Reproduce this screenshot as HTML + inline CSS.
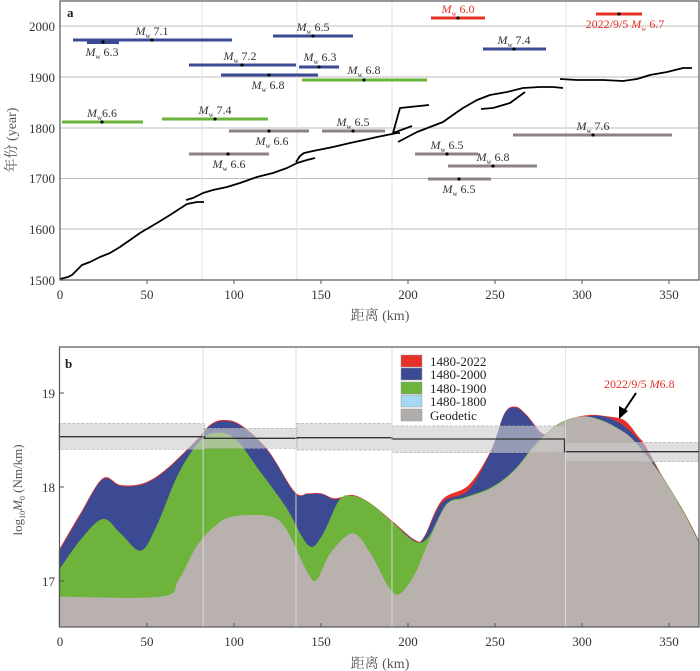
<!DOCTYPE html>
<html><head><meta charset="utf-8"><style>
html,body{margin:0;padding:0;background:#fff;}
svg{display:block;font-family:"Liberation Serif","Noto Serif CJK SC",serif;}
</style></head><body>
<svg width="700" height="671" viewBox="0 0 700 671" xmlns="http://www.w3.org/2000/svg">
<!-- Panel a -->
<g stroke="#bbb" stroke-width="1">
<line x1="60" y1="26" x2="699" y2="26"/><line x1="60" y1="77" x2="699" y2="77"/>
<line x1="60" y1="128" x2="699" y2="128"/><line x1="60" y1="178.5" x2="699" y2="178.5"/>
<line x1="60" y1="229" x2="699" y2="229"/>
</g>
<g stroke="#e2e2e2" stroke-width="1">
<line x1="202" y1="1" x2="202" y2="280"/><line x1="297" y1="1" x2="297" y2="280"/>
<line x1="392" y1="1" x2="392" y2="280"/><line x1="566" y1="1" x2="566" y2="280"/>
</g>
<g stroke-width="3">
<g stroke="#3a4a96">
<line x1="73" y1="40" x2="232" y2="40"/><line x1="87" y1="42" x2="119" y2="42" stroke-width="4"/>
<line x1="273" y1="36" x2="353" y2="36"/><line x1="189" y1="65" x2="296" y2="65"/>
<line x1="299" y1="67" x2="339" y2="67"/><line x1="221" y1="75" x2="318" y2="75"/>
<line x1="483" y1="49" x2="546" y2="49"/>
</g>
<g stroke="#e53127"><line x1="431" y1="18" x2="485" y2="18"/><line x1="596" y1="14" x2="642" y2="14"/></g>
<g stroke="#6bb33a"><line x1="62" y1="122" x2="143" y2="122"/><line x1="162" y1="119" x2="268" y2="119"/><line x1="302" y1="80" x2="427" y2="80"/></g>
<g stroke="#8c8280">
<line x1="229" y1="131" x2="309" y2="131"/><line x1="322" y1="131" x2="385" y2="131"/>
<line x1="189" y1="154" x2="269" y2="154"/><line x1="513" y1="135" x2="672" y2="135"/>
<line x1="415" y1="154" x2="478" y2="154"/><line x1="448" y1="166" x2="537" y2="166"/>
<line x1="428" y1="179" x2="491" y2="179"/>
</g>
</g>
<g fill="#000">
<circle cx="152" cy="40" r="1.6"/><circle cx="103" cy="42" r="1.6"/><circle cx="313" cy="36" r="1.6"/>
<circle cx="242" cy="65" r="1.6"/><circle cx="319" cy="67" r="1.6"/><circle cx="269" cy="75" r="1.6"/>
<circle cx="514" cy="49" r="1.6"/><circle cx="458" cy="18" r="1.6"/><circle cx="619" cy="14" r="1.6"/>
<circle cx="102" cy="122" r="1.6"/><circle cx="215" cy="119" r="1.6"/><circle cx="364" cy="80" r="1.6"/>
<circle cx="269" cy="131" r="1.6"/><circle cx="353" cy="131" r="1.6"/><circle cx="228" cy="154" r="1.6"/>
<circle cx="593" cy="135" r="1.6"/><circle cx="447" cy="154" r="1.6"/><circle cx="493" cy="166" r="1.6"/>
<circle cx="459" cy="179" r="1.6"/>
</g>
<g font-size="12" fill="#333" text-anchor="middle">
<text x="152" y="35"><tspan font-style="italic">M</tspan><tspan font-size="7" dy="3">w</tspan><tspan dy="-3"> 7.1</tspan></text>
<text x="102" y="56"><tspan font-style="italic">M</tspan><tspan font-size="7" dy="3">w</tspan><tspan dy="-3"> 6.3</tspan></text>
<text x="313" y="31"><tspan font-style="italic">M</tspan><tspan font-size="7" dy="3">w</tspan><tspan dy="-3"> 6.5</tspan></text>
<text x="240" y="60"><tspan font-style="italic">M</tspan><tspan font-size="7" dy="3">w</tspan><tspan dy="-3"> 7.2</tspan></text>
<text x="320" y="61"><tspan font-style="italic">M</tspan><tspan font-size="7" dy="3">w</tspan><tspan dy="-3"> 6.3</tspan></text>
<text x="268" y="89"><tspan font-style="italic">M</tspan><tspan font-size="7" dy="3">w</tspan><tspan dy="-3"> 6.8</tspan></text>
<text x="514" y="44"><tspan font-style="italic">M</tspan><tspan font-size="7" dy="3">w</tspan><tspan dy="-3"> 7.4</tspan></text>
<text x="102" y="117"><tspan font-style="italic">M</tspan><tspan font-size="7" dy="3">w</tspan><tspan dy="-3">6.6</tspan></text>
<text x="215" y="114"><tspan font-style="italic">M</tspan><tspan font-size="7" dy="3">w</tspan><tspan dy="-3"> 7.4</tspan></text>
<text x="364" y="74"><tspan font-style="italic">M</tspan><tspan font-size="7" dy="3">w</tspan><tspan dy="-3"> 6.8</tspan></text>
<text x="272" y="145"><tspan font-style="italic">M</tspan><tspan font-size="7" dy="3">w</tspan><tspan dy="-3"> 6.6</tspan></text>
<text x="353" y="126"><tspan font-style="italic">M</tspan><tspan font-size="7" dy="3">w</tspan><tspan dy="-3"> 6.5</tspan></text>
<text x="229" y="168"><tspan font-style="italic">M</tspan><tspan font-size="7" dy="3">w</tspan><tspan dy="-3"> 6.6</tspan></text>
<text x="593" y="130"><tspan font-style="italic">M</tspan><tspan font-size="7" dy="3">w</tspan><tspan dy="-3"> 7.6</tspan></text>
<text x="447" y="149"><tspan font-style="italic">M</tspan><tspan font-size="7" dy="3">w</tspan><tspan dy="-3"> 6.5</tspan></text>
<text x="493" y="161"><tspan font-style="italic">M</tspan><tspan font-size="7" dy="3">w</tspan><tspan dy="-3"> 6.8</tspan></text>
<text x="459" y="193"><tspan font-style="italic">M</tspan><tspan font-size="7" dy="3">w</tspan><tspan dy="-3"> 6.5</tspan></text>
<text x="458" y="13" fill="#e53127"><tspan font-style="italic">M</tspan><tspan font-size="7" dy="3">w</tspan><tspan dy="-3"> 6.0</tspan></text>
<text x="625" y="28" fill="#e53127">2022/9/5 <tspan font-style="italic">M</tspan><tspan font-size="7" dy="3">w</tspan><tspan dy="-3"> 6.7</tspan></text>
</g>
<g fill="none" stroke="#000" stroke-width="1.8" stroke-linejoin="round">
<polyline points="60,279 68,277 72,275 82,265 90,262 100,257 110,253 120,247 140,233 157,223 170,215 187,204 197,202 204,202"/>
<polyline points="186,200 193,198 203,193 213,190 227,187 240,183 257,177 273,173 287,168 297,163 307,160 315,158"/>
<polyline points="296,162 300,156 304,153 313,151 333,147 350,143 364,140 377,137 397,133 400,133"/>
<polyline points="393,133 400,108 429,105"/>
<polyline points="393,133 412,126"/>
<polyline points="398,142 417,132 430,127 443,122 450,117 463,108 477,100 490,95 507,92 523,88 540,87 553,87 563,88"/>
<polyline points="481,109 493,108 510,103 525,92"/>
<polyline points="560,79 577,80 603,80 623,81 637,79 650,75 667,72 683,68 692,68"/>
</g>
<rect x="60" y="1" width="639" height="279" fill="none" stroke="#555" stroke-width="1.2"/>
<text x="67" y="17" font-size="13" font-weight="bold" fill="#222">a</text>
<g font-size="13" fill="#333" text-anchor="end">
<text x="55" y="31">2000</text><text x="55" y="82">1900</text><text x="55" y="133">1800</text>
<text x="55" y="183">1700</text><text x="55" y="234">1600</text><text x="55" y="285">1500</text>
</g>
<g stroke="#555"><line x1="147" y1="280" x2="147" y2="284"/><line x1="234" y1="280" x2="234" y2="284"/><line x1="321" y1="280" x2="321" y2="284"/><line x1="408" y1="280" x2="408" y2="284"/><line x1="495" y1="280" x2="495" y2="284"/><line x1="582" y1="280" x2="582" y2="284"/><line x1="669" y1="280" x2="669" y2="284"/></g>
<g font-size="13" fill="#333" text-anchor="middle">
<text x="60" y="299">0</text><text x="147" y="299">50</text><text x="234" y="299">100</text><text x="321" y="299">150</text>
<text x="408" y="299">200</text><text x="495" y="299">250</text><text x="582" y="299">300</text><text x="669" y="299">350</text>
<text x="380" y="320" font-size="14" fill="#555">距离 (km)</text>
<text transform="translate(16,140) rotate(-90)" font-size="14" fill="#555">年份 (year)</text>
</g>

<!-- Panel b -->
<g transform="translate(0,340) scale(0.44643,0.33333)">
<path id="pr" fill="#e53127" d="M132,630 L180,520 230,415 270,435 320,430 370,390 440,300 470,255 500,240 540,255 600,330 660,455 690,460 720,460 750,475 790,465 830,490 880,545 930,600 950,590 990,480 1050,435 1100,330 1130,220 1155,200 1180,225 1215,280 1240,270 1270,240 1320,225 1365,230 1400,242 1430,290 1445,315 1480,400 1530,510 1565,600 L1565,860 132,860Z"/>
<path id="pb" fill="#3b4a92" d="M132,635 L180,525 230,418 270,438 320,433 370,393 440,303 470,258 500,243 540,258 600,333 660,458 690,462 720,462 750,478 790,468 830,493 880,548 930,603 950,593 990,488 1050,450 1100,333 1130,222 1155,203 1180,228 1215,283 1240,273 1270,243 1320,228 1360,232 1400,260 1440,315 1480,402 1530,512 1565,603 L1565,860 132,860Z"/>
<path id="pg" fill="#6db33c" d="M132,690 L180,600 230,537 270,580 315,632 350,560 400,400 450,300 490,278 530,300 580,390 640,500 690,615 720,590 760,480 790,468 830,490 880,548 930,605 960,590 1000,492 1040,472 1100,442 1150,392 1200,312 1250,252 1300,230 1340,237 1380,262 1420,302 1480,402 1530,512 1565,605 L1565,860 132,860Z"/>
<path id="py" fill="#b9b1ae" d="M132,770 L360,770 400,720 440,620 480,560 520,530 600,528 640,565 690,700 710,718 740,640 790,580 830,640 870,740 895,762 930,700 960,605 1000,495 1040,475 1100,445 1150,395 1200,315 1250,255 1300,230 1340,238 1380,262 1420,302 1480,405 1530,515 1565,608 L1565,860 132,860Z"/>
<g fill="rgba(205,205,205,0.62)" stroke="#aaa" stroke-dasharray="6,4" stroke-width="2">
<rect x="132" y="250" width="326" height="78"/><rect x="458" y="265" width="207" height="60"/>
<rect x="665" y="250" width="213" height="80"/><rect x="878" y="258" width="387" height="80"/>
<rect x="1265" y="307" width="300" height="58"/>
</g>
<polyline fill="none" stroke="#333" stroke-width="4" points="132,290 458,290 458,295 665,295 665,293 878,293 878,297 1265,297 1265,335 1565,335"/>
<g stroke="#ddd" stroke-width="2"><line x1="455" y1="20" x2="455" y2="860"/><line x1="663" y1="20" x2="663" y2="860"/><line x1="878" y1="20" x2="878" y2="860"/><line x1="1267" y1="20" x2="1267" y2="860"/></g>
</g>
<rect x="59.5" y="347" width="639.5" height="280" fill="none" stroke="#555" stroke-width="1.2"/>
<text x="65" y="368" font-size="13" font-weight="bold" fill="#222">b</text>
<g stroke="#555"><line x1="60" y1="393" x2="64" y2="393"/><line x1="60" y1="487" x2="64" y2="487"/><line x1="60" y1="581" x2="64" y2="581"/>
<line x1="147" y1="627" x2="147" y2="623"/><line x1="234" y1="627" x2="234" y2="623"/><line x1="321" y1="627" x2="321" y2="623"/><line x1="408" y1="627" x2="408" y2="623"/><line x1="495" y1="627" x2="495" y2="623"/><line x1="582" y1="627" x2="582" y2="623"/><line x1="669" y1="627" x2="669" y2="623"/></g>
<g font-size="13" fill="#333" text-anchor="end"><text x="55" y="398">19</text><text x="55" y="492">18</text><text x="55" y="586">17</text></g>
<g font-size="13" fill="#333" text-anchor="middle">
<text x="60" y="646">0</text><text x="147" y="646">50</text><text x="234" y="646">100</text><text x="321" y="646">150</text>
<text x="408" y="646">200</text><text x="495" y="646">250</text><text x="582" y="646">300</text><text x="669" y="646">350</text>
<text x="380" y="668" font-size="14" fill="#555">距离 (km)</text>
<text transform="translate(22,490) rotate(-90)" font-size="13" fill="#555">log<tspan font-size="8" dy="3">10</tspan><tspan dy="-3" font-style="italic">M</tspan><tspan font-size="8" dy="3">0</tspan><tspan dy="-3"> (Nm/km)</tspan></text>
</g>
<g font-size="13" fill="#222">
<rect x="401" y="355" width="21" height="12" fill="#e53127" stroke="#999" stroke-width="0.5"/><text x="430" y="366">1480-2022</text>
<rect x="401" y="368" width="21" height="12" fill="#3b4a92" stroke="#999" stroke-width="0.5"/><text x="430" y="379">1480-2000</text>
<rect x="401" y="382" width="21" height="12" fill="#6db33c" stroke="#999" stroke-width="0.5"/><text x="430" y="393">1480-1900</text>
<rect x="401" y="395" width="21" height="12" fill="#a6d8f0" stroke="#999" stroke-width="0.5"/><text x="430" y="406">1480-1800</text>
<rect x="401" y="409" width="21" height="12" fill="#b0adab" stroke="#999" stroke-width="0.5"/><text x="430" y="420">Geodetic</text>
</g>
<text x="604" y="388" font-size="12" fill="#e53127">2022/9/5 <tspan font-style="italic">M</tspan>6.8</text>
<line x1="636" y1="393" x2="624" y2="411" stroke="#000" stroke-width="2"/>
<polygon points="619,419 619,406 628,411" fill="#000"/>
</svg>
<script>
(function(){
  function smooth(id){
    var el=document.getElementById(id); if(!el) return;
    var d=el.getAttribute('d');
    var body=d.replace(/^M/,'').split(' L1565,860')[0].replace(' L',' ');
    var pts=body.trim().split(/\s+/).map(function(s){var a=s.split(',');return [+a[0],+a[1]];});
    var out='M'+pts[0][0]+','+pts[0][1];
    for(var i=0;i<pts.length-1;i++){
      var p0=pts[i-1]||pts[i],p1=pts[i],p2=pts[i+1],p3=pts[i+2]||p2;
      var c1=[p1[0]+(p2[0]-p0[0])/6,p1[1]+(p2[1]-p0[1])/6];
      var c2=[p2[0]-(p3[0]-p1[0])/6,p2[1]-(p3[1]-p1[1])/6];
      out+=' C'+c1[0].toFixed(1)+','+c1[1].toFixed(1)+' '+c2[0].toFixed(1)+','+c2[1].toFixed(1)+' '+p2[0]+','+p2[1];
    }
    out+=' L1565,860 L132,860Z';
    el.setAttribute('d',out);
  }
  ['pr','pb','pg','py'].forEach(smooth);
})();
</script>
</body></html>
